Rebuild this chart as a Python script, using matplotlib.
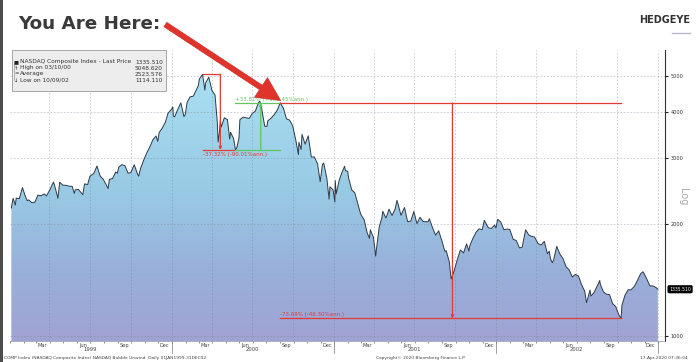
import matplotlib
matplotlib.use('Agg')
import matplotlib.pyplot as plt
import matplotlib.dates as mdates
from matplotlib.patches import Rectangle, Polygon, FancyArrowPatch, ArrowStyle
from matplotlib.colors import LinearSegmentedColormap
from matplotlib.lines import Line2D
import numpy as np
import pandas as pd

# ---------------- data (NASDAQ Composite, approx. weekly closes) -------------
dates = [
 '1999-01-04','1999-01-08','1999-01-13','1999-01-15','1999-01-22','1999-01-29','1999-02-05','1999-02-09',
 '1999-02-12','1999-02-19','1999-02-26','1999-03-05','1999-03-12','1999-03-19','1999-03-24','1999-03-31',
 '1999-04-09','1999-04-13','1999-04-19','1999-04-23','1999-04-30','1999-05-07','1999-05-14','1999-05-21',
 '1999-05-26','1999-05-28','1999-06-04','1999-06-14','1999-06-18','1999-06-25','1999-06-30','1999-07-09',
 '1999-07-16','1999-07-23','1999-07-30','1999-08-06','1999-08-10','1999-08-13','1999-08-20','1999-08-27',
 '1999-08-31','1999-09-03','1999-09-10','1999-09-17','1999-09-24','1999-09-30','1999-10-08','1999-10-15',
 '1999-10-18','1999-10-22','1999-10-29','1999-11-05','1999-11-12','1999-11-19','1999-11-26','1999-11-30',
 '1999-12-03','1999-12-10','1999-12-17','1999-12-23','1999-12-31',
 '2000-01-03','2000-01-04','2000-01-07','2000-01-14','2000-01-21','2000-01-28','2000-01-31','2000-02-04',
 '2000-02-11','2000-02-18','2000-02-25','2000-02-29','2000-03-03','2000-03-10','2000-03-15','2000-03-17',
 '2000-03-24','2000-03-31','2000-04-07','2000-04-12','2000-04-14','2000-04-17','2000-04-19','2000-04-21',
 '2000-04-28','2000-05-05','2000-05-10','2000-05-12','2000-05-19','2000-05-23','2000-05-26','2000-05-31',
 '2000-06-02','2000-06-09','2000-06-16','2000-06-23','2000-06-30','2000-07-07','2000-07-14','2000-07-17',
 '2000-07-21','2000-07-28','2000-08-02','2000-08-04','2000-08-11','2000-08-18','2000-08-25','2000-08-31',
 '2000-09-01','2000-09-08','2000-09-15','2000-09-22','2000-09-29','2000-10-06','2000-10-12','2000-10-13',
 '2000-10-18','2000-10-20','2000-10-27','2000-10-31','2000-11-03','2000-11-10','2000-11-17','2000-11-24',
 '2000-11-30','2000-12-05','2000-12-08','2000-12-15','2000-12-20','2000-12-22','2000-12-29',
 '2001-01-02','2001-01-03','2001-01-05','2001-01-12','2001-01-19','2001-01-24','2001-01-26','2001-01-31',
 '2001-02-02','2001-02-09','2001-02-16','2001-02-23','2001-02-28','2001-03-02','2001-03-09','2001-03-16',
 '2001-03-21','2001-03-23','2001-03-30','2001-04-04','2001-04-06','2001-04-12','2001-04-18','2001-04-20',
 '2001-04-27','2001-04-30','2001-05-04','2001-05-11','2001-05-18','2001-05-22','2001-05-25','2001-05-31',
 '2001-06-08','2001-06-15','2001-06-22','2001-06-29','2001-07-06','2001-07-13','2001-07-20','2001-07-27',
 '2001-07-31','2001-08-03','2001-08-10','2001-08-17','2001-08-24','2001-08-31','2001-09-07','2001-09-10',
 '2001-09-17','2001-09-21','2001-09-28','2001-10-05','2001-10-12','2001-10-19','2001-10-26','2001-10-31',
 '2001-11-02','2001-11-09','2001-11-16','2001-11-23','2001-11-30','2001-12-05','2001-12-07','2001-12-14',
 '2001-12-21','2001-12-28','2001-12-31',
 '2002-01-04','2002-01-11','2002-01-18','2002-01-25','2002-01-31','2002-02-08','2002-02-15','2002-02-22',
 '2002-02-28','2002-03-08','2002-03-15','2002-03-22','2002-03-28','2002-04-05','2002-04-12','2002-04-19',
 '2002-04-26','2002-04-30','2002-05-03','2002-05-07','2002-05-10','2002-05-17','2002-05-24','2002-05-31',
 '2002-06-07','2002-06-14','2002-06-21','2002-06-28','2002-07-05','2002-07-12','2002-07-19','2002-07-23',
 '2002-07-26','2002-07-31','2002-08-02','2002-08-09','2002-08-16','2002-08-22','2002-08-23','2002-08-30',
 '2002-09-06','2002-09-13','2002-09-20','2002-09-27','2002-09-30','2002-10-04','2002-10-09','2002-10-11',
 '2002-10-18','2002-10-25','2002-10-31','2002-11-08','2002-11-15','2002-11-22','2002-11-27','2002-11-29',
 '2002-12-06','2002-12-13','2002-12-20','2002-12-27','2002-12-31']
values = [
 2208.05,2344.41,2249.0,2348.20,2338.88,2505.89,2367.89,2310.0,
 2321.89,2283.6,2288.03,2392.0,2381.4,2409.0,2379.0,2461.40,
 2593.0,2500.0,2345.0,2590.7,2542.85,2541.1,2527.9,2525.5,
 2416.0,2470.52,2478.3,2398.0,2563.4,2552.7,2686.12,2736.8,
 2864.48,2692.4,2638.49,2547.9,2490.1,2637.8,2648.3,2758.9,
 2739.35,2843.1,2887.1,2869.6,2740.4,2746.16,2886.6,2731.9,
 2689.0,2816.1,2966.43,3102.3,3221.2,3369.3,3447.8,3336.16,
 3520.6,3620.2,3753.1,3969.4,4069.31,
 4131.15,3901.69,3882.62,4064.27,4235.40,3887.07,3940.35,4244.14,
 4395.45,4411.74,4590.50,4696.69,4914.79,5048.62,4582.6,4798.13,
 4963.03,4572.83,4446.45,3769.6,3321.29,3539.0,3793.0,3643.88,
 3860.66,3816.82,3384.0,3529.06,3390.40,3164.55,3205.35,3400.91,
 3813.38,3874.84,3860.56,3845.34,3966.11,4023.20,4246.18,4274.67,
 4094.45,3663.00,3658.0,3787.36,3849.00,3930.34,4042.68,4206.35,
 4234.33,4098.35,3835.23,3803.76,3672.82,3361.01,3074.68,3316.77,
 3171.0,3483.14,3278.36,3369.63,3451.58,3028.99,3027.19,2904.38,
 2597.93,2889.8,2917.43,2653.27,2332.78,2517.02,2470.52,
 2291.86,2616.69,2407.65,2626.50,2770.38,2859.15,2781.30,2772.73,
 2660.50,2470.97,2425.38,2262.51,2151.83,2117.63,2052.78,1890.91,
 1830.0,1928.68,1840.26,1638.80,1720.36,1961.43,2079.44,2163.41,
 2075.68,2116.24,2191.53,2107.43,2198.88,2313.85,2251.03,2110.49,
 2215.10,2028.43,2034.84,2160.54,2004.16,2084.79,2029.12,2029.07,
 2027.13,2066.33,1956.47,1867.01,1916.80,1805.43,1687.70,1695.38,
 1579.55,1423.19,1498.80,1605.30,1703.40,1671.30,1768.96,1690.20,
 1745.73,1828.48,1898.58,1941.23,1930.58,2046.84,2021.26,1953.17,
 1945.83,1987.26,1950.40,
 2059.38,2022.46,1930.34,1937.70,1934.03,1818.88,1805.20,1724.54,
 1731.49,1929.67,1868.30,1851.39,1845.35,1770.03,1756.19,1796.83,
 1663.89,1688.23,1613.03,1573.8,1600.85,1741.39,1661.49,1615.73,
 1535.48,1504.74,1440.96,1463.21,1448.36,1373.50,1319.15,1229.05,
 1262.12,1328.26,1280.00,1306.84,1361.01,1409.25,1380.62,1314.85,
 1295.30,1291.40,1221.09,1199.16,1172.06,1139.90,1114.11,1210.47,
 1287.86,1331.13,1329.75,1359.28,1411.14,1468.74,1487.94,1478.78,
 1422.44,1362.42,1363.05,1348.31,1335.51]

y_ticks = [1000, 2000, 3000, 4000, 5000]
y_tick_labels = ['1000', '2000', '3000', '4000', '5000']
years = ['1999', '2000', '2001', '2002']

legend_labels = ['NASDAQ Composite Index - Last Price', 'High on 03/10/00', 'Average', 'Low on 10/09/02']
legend_values = ['1335.510', '5048.620', '2523.576', '1114.110']
legend_marks = ['\u25A0', '\u2191', '=', '\u2193']

peak_date, peak_val = '2000-03-10', 5048.62
low1_date, low1_val = '2000-05-23', 3164.55
here_date, here_val = '2000-09-01', 4234.33
low2_date, low2_val = '2002-10-09', 1114.11
red1_x = '2000-04-19'
green_x = '2000-07-19'
red2_x = '2001-09-24'
txt_drop1 = '-37.32% (-90.01%ann.)'
txt_rise = '+33.81% (+185.45%ann.)'
txt_drop2 = '-73.69% (-46.30%ann.)'
last_price = '1335.510'

# ---------------- figure ----------------
W, H = 700, 362
fig = plt.figure(figsize=(W / 100, H / 100), dpi=100)
fig.patch.set_facecolor('white')

def fx(px):
    return px / W

def fy(py):
    return 1 - py / H

ax = fig.add_axes([fx(10), fy(341), fx(665) - fx(10), fy(50) - fy(341)])
ax.set_facecolor('white')

d = mdates.date2num
x = d(pd.to_datetime(dates))
v = np.array(values)

xmin = d(pd.Timestamp('1999-01-01'))
xmax = d(pd.Timestamp('2003-01-16'))
ymin, ymax = 969, 5873

# gradient fill clipped to area
stops = [(0.0, (160/255, 163/255, 212/255)), (0.25, (152/255, 176/255, 218/255)),
         (0.5, (152/255, 201/255, 228/255)), (0.85, (166/255, 220/255, 240/255)),
         (1.0, (176/255, 228/255, 245/255))]
cmap = LinearSegmentedColormap.from_list('g', stops)
grad = np.linspace(0, 1, 256).reshape(-1, 1)
im = ax.imshow(grad, extent=[0, 1, 0, 1], transform=ax.transAxes, origin='lower',
               aspect='auto', cmap=cmap, zorder=1, interpolation='bilinear')
verts = [(x[0], ymin)] + list(zip(x, v)) + [(x[-1], ymin)]
poly = Polygon(verts, closed=True, facecolor='none', edgecolor='none', transform=ax.transData)
ax.add_patch(poly)
im.set_clip_path(poly)

ax.plot(x, v, color='#2e3a46', lw=0.7, zorder=3)

ax.set_yscale('log')
ax.set_xlim(xmin, xmax)
ax.set_ylim(ymin, ymax)

# gridlines
grid_kw = dict(color='#7a8296', lw=0.6, ls=(0, (2, 2)), alpha=0.45, zorder=2)
for t in y_ticks:
    ax.axhline(t, **grid_kw)
for q in pd.date_range('1999-03-31', '2002-12-31', freq='QE'):
    ax.axvline(d(q), **grid_kw)

# axes styling
for s in ['top', 'left']:
    ax.spines[s].set_visible(False)
ax.spines['right'].set_color('#333333')
ax.spines['right'].set_linewidth(0.8)
ax.spines['bottom'].set_color('#8890a8')
ax.spines['bottom'].set_linewidth(0.5)

ax.yaxis.tick_right()
ax.yaxis.set_minor_locator(matplotlib.ticker.NullLocator())
ax.set_yticks(y_ticks)
ax.set_yticklabels(y_tick_labels)
ax.tick_params(axis='y', which='major', direction='out', length=2.5, width=0.8,
               color='#222222', labelsize=3.6, labelcolor='#333333', pad=1.5)

ax.xaxis.set_major_locator(mdates.MonthLocator(bymonth=[3, 6, 9, 12], bymonthday=15))
ax.xaxis.set_major_formatter(mdates.DateFormatter('%b'))
ax.xaxis.set_minor_locator(mdates.MonthLocator())
ax.tick_params(axis='x', which='major', length=0, labelsize=3.6, labelcolor='#444444', pad=1.5)
ax.tick_params(axis='x', which='minor', length=1.5, width=0.5, color='#666666')

btr = matplotlib.transforms.blended_transform_factory(ax.transData, ax.transAxes)
for yr in years:
    ax.text(d(pd.Timestamp(yr + '-07-01')), -0.03, yr, transform=btr, ha='center', va='center',
            fontsize=3.8, color='#444444', clip_on=False)
    ax.add_line(Line2D([d(pd.Timestamp(str(int(yr) + 1) + '-01-01'))] * 2, [-0.005, -0.04],
                       transform=btr, color='#777777', lw=0.5, clip_on=False))

# annotations
red = '#e23c32'
green = '#5cc75c'
P = lambda s: d(pd.Timestamp(s))
ax.plot([P(peak_date), P(red1_x)], [peak_val, peak_val], color=red, lw=0.9, zorder=4)
ax.plot([P(peak_date), P(low1_date)], [low1_val, low1_val], color=red, lw=0.9, zorder=4)
ax.annotate('', xy=(P(red1_x), low1_val), xytext=(P(red1_x), peak_val),
            arrowprops=dict(arrowstyle='-|>', color=red, lw=0.9, mutation_scale=4, shrinkA=0, shrinkB=0), zorder=4)
ax.text(P(peak_date), low1_val * 0.985, txt_drop1, color=red, fontsize=4, ha='left', va='top', zorder=5)

ax.plot([P(low1_date), P(here_date)], [low1_val, low1_val], color=green, lw=0.9, zorder=4)
ax.plot([P(low1_date), P(here_date)], [here_val, here_val], color=green, lw=0.9, zorder=4)
ax.annotate('', xy=(P(green_x), here_val), xytext=(P(green_x), low1_val),
            arrowprops=dict(arrowstyle='-|>', color=green, lw=0.9, mutation_scale=4, shrinkA=0, shrinkB=0), zorder=4)
ax.text(P(low1_date), here_val * 1.008, txt_rise, color=green, fontsize=4, ha='left', va='bottom', zorder=5)

ax.plot([P(here_date), P(low2_date)], [here_val, here_val], color=red, lw=0.9, zorder=4)
ax.plot([P(here_date), P(low2_date)], [low2_val, low2_val], color=red, lw=0.9, zorder=4)
ax.annotate('', xy=(P(red2_x), low2_val), xytext=(P(red2_x), here_val),
            arrowprops=dict(arrowstyle='-|>', color=red, lw=0.9, mutation_scale=4, shrinkA=0, shrinkB=0), zorder=4)
ax.text(P(here_date), low2_val * 1.008, txt_drop2, color=red, fontsize=4, ha='left', va='bottom', zorder=5)

# last price box
ax.annotate(last_price, xy=(1, values[-1]), xycoords=('axes fraction', 'data'),
            xytext=(3, 0), textcoords='offset points', ha='left', va='center',
            fontsize=3.3, color='white',
            bbox=dict(boxstyle='round,pad=0.3', fc='black', ec='black', lw=0.3), annotation_clip=False)

# Log label
fig.text(fx(683), fy(197), 'Log', rotation=-90, ha='center', va='center', fontsize=7, color='#aaaaaa')

# legend box
fig.add_artist(Rectangle((fx(12), fy(91)), fx(166) - fx(12), fy(50) - fy(91), transform=fig.transFigure,
                         facecolor='#ededed', edgecolor='#9a9a9a', lw=0.6, zorder=10))
rows = [62, 68, 74, 80]
fig.add_artist(Line2D([fx(13.5)] * 2, [fy(62), fy(80)], transform=fig.transFigure, color='#888888', lw=0.4, zorder=11))
for yy, mk, lab, val in zip(rows, legend_marks, legend_labels, legend_values):
    fig.text(fx(16.5), fy(yy), mk, ha='center', va='center', fontsize=3.8, color='#222222', zorder=12)
    fig.text(fx(19.5), fy(yy), lab, ha='left', va='center', fontsize=4.2, color='#333333', zorder=12)
    fig.text(fx(163), fy(yy), val, ha='right', va='center', fontsize=4.2, color='#333333', zorder=12)

# left dark stripe
fig.add_artist(Rectangle((0, 0), fx(2.5), 1, transform=fig.transFigure, facecolor='#4d4d4d', edgecolor='none', zorder=20))

# title and branding
fig.text(fx(18), fy(29), 'You Are Here:', fontsize=13.2, fontweight='bold', color='#3a3a3a',
         ha='left', va='baseline', family='DejaVu Sans')
fig.text(fx(690), fy(23), 'HEDGEYE', fontsize=7.0, fontweight='bold', color='#333333',
         ha='right', va='baseline')
fig.add_artist(Line2D([fx(672), fx(690)], [fy(33), fy(33)], transform=fig.transFigure, color='#b4b8cc', lw=1.0))

# big red arrow
arr = FancyArrowPatch(posA=(163, H - 23), posB=(283, H - 102), transform=None,
                      arrowstyle=ArrowStyle.Simple(head_length=1.7, head_width=1.7, tail_width=0.38),
                      mutation_scale=10, facecolor='#e0332b', edgecolor='#c42a22', lw=0.4, zorder=30)
fig.add_artist(arr)

# footer
fig.text(fx(4), fy(358), 'COMP Index (NASDAQ Composite Index) NASDAQ Bubble Unwind  Daily 01JAN1999-31DEC02',
         fontsize=3.2, color='#444444', ha='left', va='center')
fig.text(fx(421), fy(358), 'Copyright\u00a9 2020 Bloomberg Finance L.P.', fontsize=3.2, color='#444444',
         ha='center', va='center')
fig.text(fx(688), fy(358), '17-Apr-2020 07:36:04', fontsize=3.2, color='#444444', ha='right', va='center')

fig.savefig('out.png', dpi=100)
